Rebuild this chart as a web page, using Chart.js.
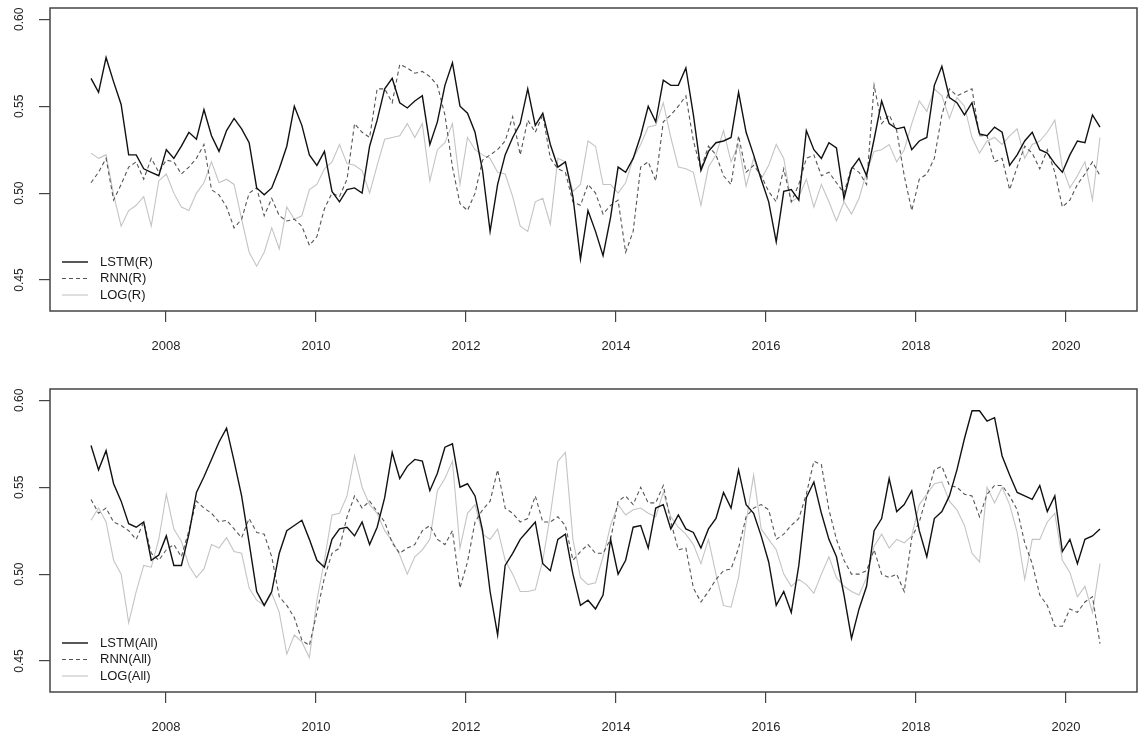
<!DOCTYPE html>
<html>
<head>
<meta charset="utf-8">
<script src="https://cdn.jsdelivr.net/npm/chart.js@4/dist/chart.umd.min.js"></script>
<style>
    html, body { margin: 0; padding: 0; background: #fff; }
    canvas { position: absolute; left: 0; }
</style>
</head>
<body>
<canvas id="graf-r" style="top:0px" width="1139" height="355"></canvas>
<canvas id="graf-all" style="top:381px" width="1139" height="355"></canvas>
<script>
const xTicks = [2008, 2010, 2012, 2014, 2016, 2018, 2020];
const yTicks = [0.45, 0.50, 0.55, 0.60];
const labelsR = ["LSTM(R)", "RNN(R)", "LOG(R)"];
const labelsAll = ["LSTM(All)", "RNN(All)", "LOG(All)"];

const lstmR = [.566,.558,.578,.564,.551,.522,.522,.514,.512,.510,.525,.520,.527,.535,.531,.548,.533,.524,.536,.543,
    .537,.529,.503,.499,.503,.514,.527,.550,.539,.522,.516,.524,.501,.495,.502,.503,.500,.527,.542,.560,
    .566,.552,.549,.553,.556,.528,.541,.562,.575,.550,.546,.535,.513,.478,.505,.522,.532,.540,.560,.539,
    .546,.528,.515,.518,.498,.462,.490,.478,.464,.486,.515,.512,.520,.533,.550,.541,.565,.562,.562,.572,
    .545,.513,.524,.529,.530,.532,.558,.535,.522,.508,.495,.472,.501,.502,.496,.536,.525,.520,.529,.526,
    .497,.514,.520,.510,.531,.553,.540,.537,.538,.525,.530,.532,.562,.573,.555,.552,.545,.552,.534,.533,
    .538,.535,.516,.522,.530,.535,.525,.523,.517,.512,.522,.530,.529,.545,.538];
const rnnR = [.506,.512,.520,.496,.505,.515,.518,.508,.520,.512,.519,.518,.511,.515,.520,.528,.502,.499,.492,.480,
    .485,.500,.503,.487,.497,.487,.484,.485,.481,.470,.475,.491,.500,.498,.508,.540,.535,.532,.560,.560,
    .552,.574,.572,.569,.570,.567,.562,.545,.515,.494,.490,.500,.519,.522,.525,.530,.544,.522,.542,.535,
    .545,.520,.514,.512,.495,.493,.505,.500,.488,.493,.496,.466,.478,.515,.518,.507,.541,.545,.550,.556,
    .530,.514,.527,.522,.510,.505,.533,.512,.516,.510,.501,.495,.514,.495,.505,.520,.522,.510,.512,.506,
    .500,.515,.512,.505,.562,.540,.545,.536,.510,.490,.508,.511,.520,.545,.560,.556,.558,.560,.533,.533,
    .518,.520,.502,.515,.527,.523,.514,.525,.512,.492,.496,.505,.511,.518,.510];
const logR = [.523,.520,.522,.499,.481,.490,.493,.498,.481,.507,.511,.500,.492,.490,.500,.506,.518,.506,.508,.505,
    .485,.466,.458,.466,.480,.468,.492,.485,.487,.502,.505,.514,.518,.528,.517,.516,.513,.500,.516,.531,
    .532,.533,.540,.532,.540,.507,.525,.529,.540,.505,.532,.525,.522,.520,.512,.511,.498,.481,.478,.495,
    .497,.482,.520,.518,.501,.505,.530,.527,.505,.505,.500,.506,.520,.528,.538,.539,.552,.532,.515,.514,
    .512,.493,.515,.522,.536,.518,.528,.504,.520,.508,.516,.528,.520,.495,.498,.508,.492,.505,.495,.484,
    .495,.488,.497,.512,.524,.525,.528,.518,.525,.540,.553,.547,.560,.556,.543,.555,.550,.532,.523,.530,
    .532,.528,.533,.537,.520,.528,.530,.535,.542,.515,.503,.510,.518,.496,.532];

const lstmAll = [.574,.560,.571,.552,.542,.529,.527,.530,.508,.511,.522,.505,.505,.523,.547,.556,.566,.576,.584,.565,
    .545,.518,.490,.482,.490,.512,.525,.528,.531,.520,.508,.504,.520,.526,.527,.522,.530,.517,.527,.544,
    .570,.555,.562,.566,.565,.548,.558,.573,.575,.550,.552,.545,.525,.490,.465,.505,.512,.520,.525,.530,
    .506,.502,.520,.523,.500,.482,.485,.480,.488,.520,.500,.508,.527,.528,.515,.538,.540,.526,.534,.526,
    .524,.515,.526,.532,.547,.538,.560,.540,.535,.522,.507,.482,.490,.478,.505,.544,.553,.535,.520,.510,
    .488,.463,.480,.493,.525,.532,.555,.536,.540,.548,.525,.510,.532,.536,.545,.560,.578,.594,.594,.588,
    .590,.568,.557,.547,.545,.543,.551,.536,.545,.513,.520,.506,.520,.522,.526];
const rnnAll = [.543,.535,.538,.530,.528,.525,.520,.530,.512,.508,.514,.517,.510,.525,.542,.538,.535,.530,.531,.526,
    .521,.532,.524,.523,.510,.487,.482,.475,.462,.459,.478,.498,.512,.515,.533,.545,.538,.542,.536,.530,
    .518,.512,.515,.517,.525,.528,.520,.517,.525,.492,.507,.530,.537,.542,.560,.538,.535,.530,.532,.545,
    .530,.530,.533,.528,.508,.513,.517,.512,.512,.520,.542,.545,.540,.550,.541,.541,.551,.530,.514,.515,
    .492,.484,.490,.497,.502,.503,.515,.533,.538,.540,.537,.520,.523,.528,.532,.546,.565,.563,.537,.520,
    .508,.500,.500,.502,.514,.500,.498,.500,.490,.521,.530,.545,.560,.562,.551,.550,.546,.545,.533,.546,
    .551,.551,.545,.537,.518,.506,.488,.482,.470,.470,.480,.478,.484,.487,.460];
const logAll = [.531,.538,.530,.508,.500,.472,.490,.505,.504,.520,.546,.526,.519,.505,.498,.503,.517,.515,.521,.513,
    .512,.492,.485,.482,.489,.478,.454,.465,.461,.452,.485,.508,.534,.535,.545,.568,.550,.540,.535,.525,
    .519,.511,.500,.510,.514,.520,.548,.555,.565,.515,.535,.540,.523,.520,.526,.508,.500,.490,.490,.491,
    .508,.534,.565,.570,.520,.498,.494,.495,.510,.528,.540,.534,.537,.538,.535,.533,.547,.533,.527,.523,
    .517,.506,.520,.500,.482,.481,.498,.530,.557,.526,.520,.514,.500,.493,.497,.494,.489,.500,.510,.498,
    .493,.490,.488,.498,.516,.523,.515,.520,.518,.522,.540,.546,.552,.553,.542,.537,.528,.512,.507,.550,
    .541,.550,.540,.524,.497,.520,.520,.530,.535,.508,.501,.487,.493,.478,.506];

const years = lstmR.map((_, i) => 2007 + i * 0.1004);

const fontFam = '"Liberation Sans", Arial, sans-serif';
const lineStyles = [
    { borderColor: "#111111", borderWidth: 1.4, borderDash: [] },
    { borderColor: "#555555", borderWidth: 1.1, borderDash: [4, 3] },
    { borderColor: "#c4c4c4", borderWidth: 1.1, borderDash: [] }
];

const boxAndLegend = {
    id: "boxAndLegend",
    afterDraw(chart) {
        const ctx = chart.ctx;
        const a = chart.chartArea;
        ctx.save();
        ctx.strokeStyle = "#444";
        ctx.lineWidth = 1.5;
        ctx.strokeRect(a.left, a.top, a.right - a.left, a.bottom - a.top);
        ctx.font = "13px " + fontFam;
        ctx.textBaseline = "middle";
        ctx.textAlign = "left";
        chart.data.datasets.forEach((ds, i) => {
            const y = a.top + 254 + i * 16.5;
            ctx.beginPath();
            ctx.strokeStyle = ds.borderColor;
            ctx.lineWidth = ds.borderWidth;
            ctx.setLineDash(ds.borderDash);
            ctx.moveTo(62, y);
            ctx.lineTo(88, y);
            ctx.stroke();
            ctx.setLineDash([]);
            ctx.fillStyle = "#1a1a1a";
            ctx.fillText(ds.label, 100, y);
        });
        ctx.restore();
    }
};

function makeChart(id, labels, series) {
    new Chart(id, {
        type: "line",
        data: {
            datasets: series.map((vals, k) => ({
                label: labels[k],
                data: vals.map((v, i) => ({ x: years[i], y: v })),
                borderColor: lineStyles[k].borderColor,
                borderWidth: lineStyles[k].borderWidth,
                borderDash: lineStyles[k].borderDash,
                pointRadius: 0,
                tension: 0,
                fill: false
            }))
        },
        options: {
            responsive: false,
            animation: false,
            devicePixelRatio: 1,
            layout: { padding: { top: 8, right: 2, left: 0, bottom: 0 } },
            plugins: { legend: { display: false }, tooltip: { enabled: false } },
            scales: {
                x: {
                    type: "linear",
                    min: 2006.453,
                    max: 2020.947,
                    afterBuildTicks: s => { s.ticks = xTicks.map(v => ({ value: v })); },
                    afterFit: s => { s.height = 44; s.paddingLeft = 0; s.paddingRight = 0; },
                    border: { display: false },
                    grid: { drawOnChartArea: false, tickLength: 11, color: "#444", lineWidth: 1.2 },
                    ticks: {
                        autoSkip: false, maxRotation: 0, padding: 17, color: "#1f1f1f",
                        font: { size: 13, family: fontFam },
                        callback: v => String(v)
                    }
                },
                y: {
                    min: 0.4322,
                    max: 0.6065,
                    afterBuildTicks: s => { s.ticks = yTicks.map(v => ({ value: v })); },
                    afterFit: s => { s.width = 50; s.paddingTop = 0; s.paddingBottom = 0; },
                    border: { display: false },
                    grid: { drawOnChartArea: false, tickLength: 11, color: "#444", lineWidth: 1.2 },
                    ticks: {
                        minRotation: 90, maxRotation: 90, crossAlign: "center", padding: 8, color: "#1f1f1f",
                        font: { size: 12, family: fontFam },
                        callback: v => v.toFixed(2)
                    }
                }
            }
        },
        plugins: [boxAndLegend]
    });
}

makeChart("graf-r", labelsR, [lstmR, rnnR, logR]);
makeChart("graf-all", labelsAll, [lstmAll, rnnAll, logAll]);
</script>
</body>
</html>
